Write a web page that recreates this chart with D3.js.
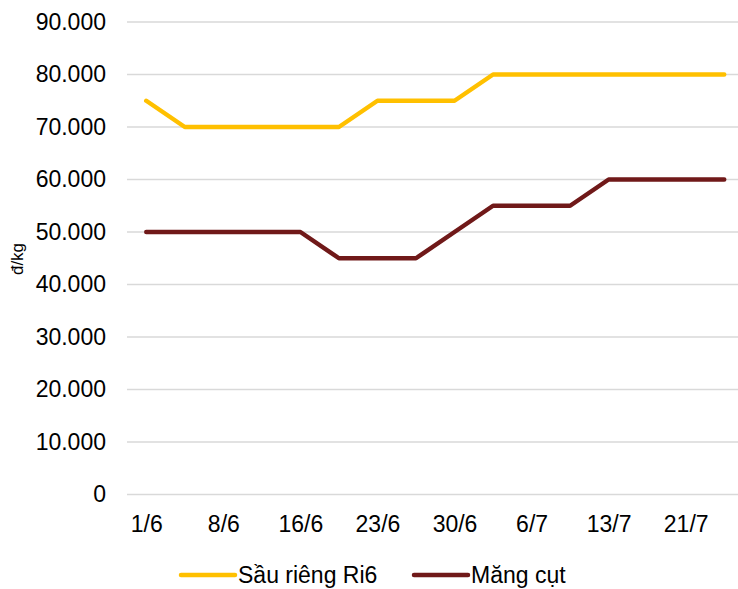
<!DOCTYPE html>
<html>
<head>
<meta charset="utf-8">
<script src="https://cdn.jsdelivr.net/npm/d3@7"></script>
<style>
  html, body { margin: 0; padding: 0; background: #fff; }
  svg { display: block; font-family: "Liberation Sans", Arial, sans-serif; }
</style>
</head>
<body>
<svg id="chart" width="738" height="589"></svg>
<script>
// Weekly price samples (category axis; every other date is labelled)
const dates = ["1/6", "4/6", "8/6", "12/6", "16/6", "19/6", "23/6", "27/6",
               "30/6", "3/7", "6/7", "10/7", "13/7", "17/7", "21/7", "24/7"];
const sauRieng = [75000, 70000, 70000, 70000, 70000, 70000, 75000, 75000,
                  75000, 80000, 80000, 80000, 80000, 80000, 80000, 80000];
const mangCut  = [50000, 50000, 50000, 50000, 50000, 45000, 45000, 45000,
                  50000, 55000, 55000, 55000, 60000, 60000, 60000, 60000];
const yTicks = [0, 10000, 20000, 30000, 40000, 50000, 60000, 70000, 80000, 90000];
const seriesNames = ["Sầu riêng Ri6", "Măng cụt"];
const seriesColors = ["#FFC000", "#701919"];

const svg = d3.select("#chart");
const plot = { left: 127, right: 743.5, top: 22, bottom: 494.5 };
const labelSize = 23;

const x = d3.scalePoint().domain(dates).range([plot.left, plot.right]).padding(0.5);
const y = d3.scaleLinear().domain([0, 90000]).range([plot.bottom, plot.top]);

const fmt = v => v === 0 ? "0" : d3.format(",")(v).replace(/,/g, ".");

// Horizontal gridlines
svg.append("g").selectAll("line").data(yTicks).join("line")
  .attr("x1", plot.left).attr("x2", plot.right)
  .attr("y1", d => y(d)).attr("y2", d => y(d))
  .attr("stroke", "#D9D9D9").attr("stroke-width", 1.3);

// Y axis labels
const yAxis = svg.append("g").attr("transform", "translate(106,0)")
  .call(d3.axisLeft(y).tickValues(yTicks).tickFormat(fmt).tickSize(0).tickPadding(0));
yAxis.select(".domain").remove();
yAxis.selectAll("text").attr("font-size", labelSize).attr("fill", "#000")
  .attr("font-family", "Liberation Sans, Arial, sans-serif");

// X axis labels (every other category)
const xAxis = svg.append("g").attr("transform", `translate(0,${plot.bottom})`)
  .call(d3.axisBottom(x).tickValues(dates.filter((d, i) => i % 2 === 0)).tickSize(0).tickPadding(21));
xAxis.select(".domain").remove();
xAxis.selectAll("text").attr("font-size", labelSize).attr("fill", "#000")
  .attr("font-family", "Liberation Sans, Arial, sans-serif");

// Axis title
svg.append("text")
  .attr("transform", "translate(23,259) rotate(-90)")
  .attr("text-anchor", "middle").attr("font-size", 17).attr("fill", "#000")
  .text("đ/kg");

// Series lines
const line = d3.line().x((d, i) => x(dates[i])).y(d => y(d));
[sauRieng, mangCut].forEach((vals, k) => {
  svg.append("path").datum(vals)
    .attr("d", line)
    .attr("fill", "none")
    .attr("stroke", seriesColors[k])
    .attr("stroke-width", 4.5)
    .attr("stroke-linejoin", "round")
    .attr("stroke-linecap", "round");
});

// Legend
const legendItems = [{ x: 181, name: seriesNames[0], color: seriesColors[0] },
                     { x: 414, name: seriesNames[1], color: seriesColors[1] }];
const lg = svg.append("g");
legendItems.forEach(it => {
  lg.append("line").attr("x1", it.x).attr("x2", it.x + 54)
    .attr("y1", 575).attr("y2", 575)
    .attr("stroke", it.color).attr("stroke-width", 4.5).attr("stroke-linecap", "round");
  lg.append("text").attr("x", it.x + 57).attr("y", 583)
    .attr("font-size", labelSize).attr("fill", "#000").text(it.name);
});
</script>
</body>
</html>
